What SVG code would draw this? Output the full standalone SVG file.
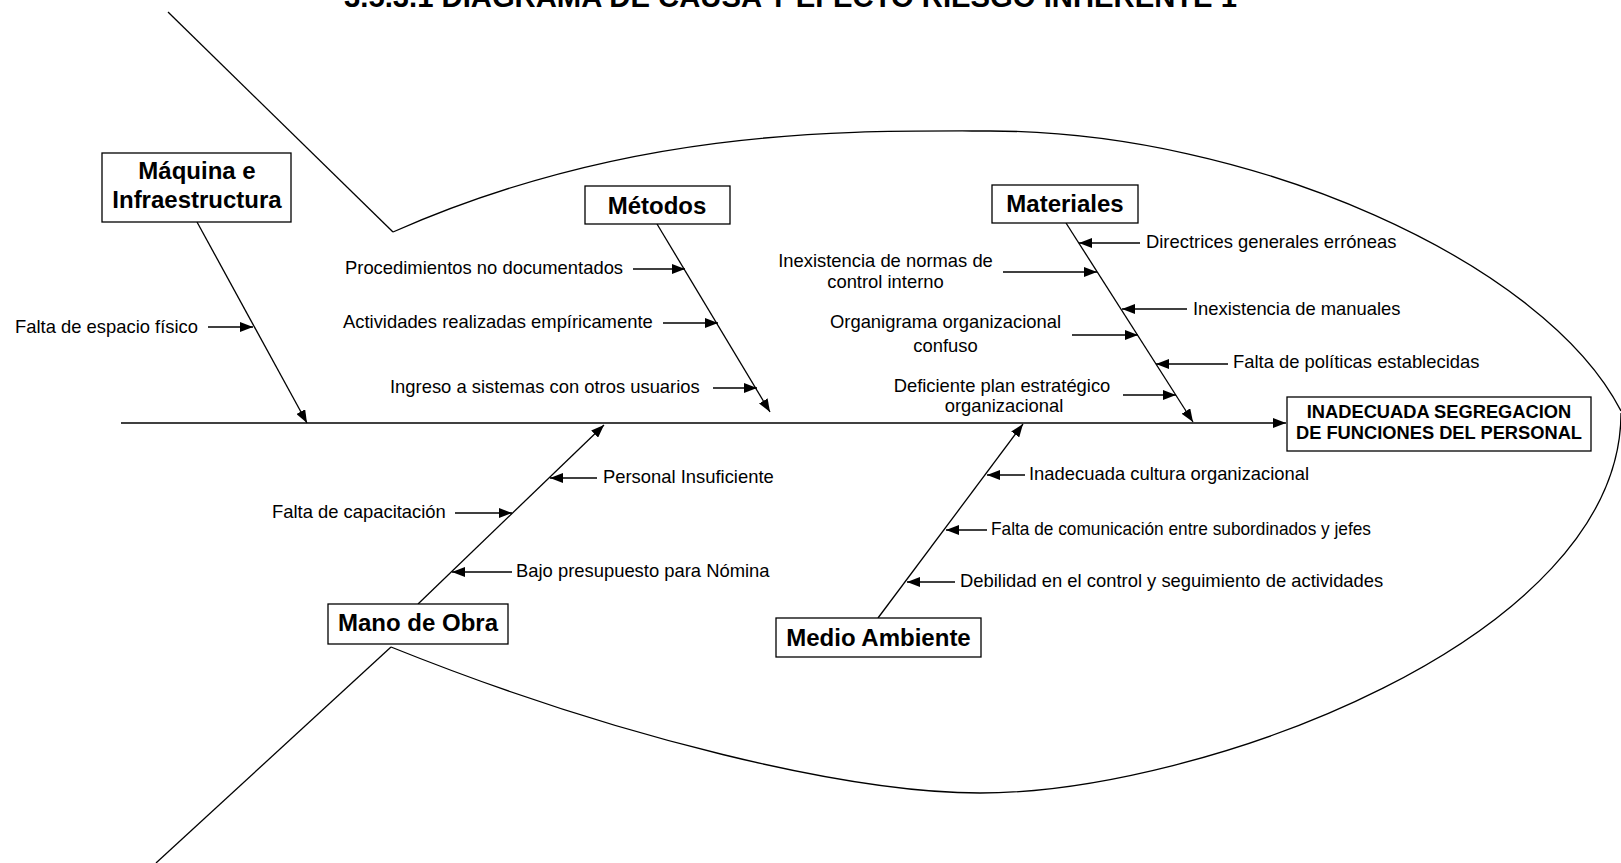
<svg xmlns="http://www.w3.org/2000/svg" width="1621" height="863" viewBox="0 0 1621 863">
<style>
.ln{stroke:#000;stroke-width:1.3;fill:none}
.bx{fill:#fff;stroke:#000;stroke-width:1.3}
.t{font-family:"Liberation Sans",Arial,sans-serif;font-size:18.4px;fill:#000}
.h{font-family:"Liberation Sans",Arial,sans-serif;font-size:24px;font-weight:bold;fill:#000}
.e{font-family:"Liberation Sans",Arial,sans-serif;font-size:18.3px;font-weight:bold;fill:#000}
.ttl{font-family:"Liberation Sans",Arial,sans-serif;font-size:29px;font-weight:bold;fill:#000}
</style>
<defs>
<marker id="ah" viewBox="0 0 13 10" refX="13" refY="5" markerWidth="13" markerHeight="10" markerUnits="userSpaceOnUse" orient="auto"><path d="M0,0 L13,5 L0,10 z" fill="#000"/></marker>
</defs>
<rect width="1621" height="863" fill="#fff"/>
<text class="ttl" x="344" y="7" textLength="893" lengthAdjust="spacingAndGlyphs">3.5.3.1 DIAGRAMA DE CAUSA Y EFECTO RIESGO INHERENTE 1</text>
<g id="fish">
<path class="ln" d="M168,12 L393,232"/>
<path class="ln" d="M393,232 C633,126 850,131 990,131 C1250,131 1545,262 1621,411"/>
<path class="ln" d="M1621,413 C1621,640 1200,793 980,793 C850,793 620,739 391,647"/>
<path class="ln" d="M391,647 L156,863"/>
</g>
<g id="connectors">
<line class="ln" x1="121" y1="423" x2="1286" y2="423" marker-end="url(#ah)"/>
<line class="ln" x1="197" y1="222" x2="307" y2="423" marker-end="url(#ah)"/>
<line class="ln" x1="657" y1="224" x2="770" y2="412" marker-end="url(#ah)"/>
<line class="ln" x1="1066" y1="223" x2="1193" y2="422" marker-end="url(#ah)"/>
<line class="ln" x1="418" y1="604" x2="604" y2="425" marker-end="url(#ah)"/>
<line class="ln" x1="878" y1="618" x2="1023" y2="424" marker-end="url(#ah)"/>
<line class="ln" x1="208" y1="327" x2="253" y2="327" marker-end="url(#ah)"/>
<line class="ln" x1="633" y1="269" x2="685" y2="269" marker-end="url(#ah)"/>
<line class="ln" x1="663" y1="323" x2="718" y2="323" marker-end="url(#ah)"/>
<line class="ln" x1="713" y1="388" x2="757" y2="388" marker-end="url(#ah)"/>
<line class="ln" x1="1140" y1="243" x2="1079" y2="243" marker-end="url(#ah)"/>
<line class="ln" x1="1003" y1="272" x2="1097" y2="272" marker-end="url(#ah)"/>
<line class="ln" x1="1187" y1="309" x2="1122" y2="309" marker-end="url(#ah)"/>
<line class="ln" x1="1072" y1="335" x2="1138" y2="335" marker-end="url(#ah)"/>
<line class="ln" x1="1228" y1="364" x2="1156" y2="364" marker-end="url(#ah)"/>
<line class="ln" x1="1123" y1="395" x2="1176" y2="395" marker-end="url(#ah)"/>
<line class="ln" x1="597" y1="478" x2="550" y2="478" marker-end="url(#ah)"/>
<line class="ln" x1="455" y1="513" x2="512" y2="513" marker-end="url(#ah)"/>
<line class="ln" x1="512" y1="572" x2="452" y2="572" marker-end="url(#ah)"/>
<line class="ln" x1="1025" y1="475" x2="987" y2="475" marker-end="url(#ah)"/>
<line class="ln" x1="987" y1="530" x2="946" y2="530" marker-end="url(#ah)"/>
<line class="ln" x1="955" y1="582" x2="907" y2="582" marker-end="url(#ah)"/>
</g>
<g id="effect">
<rect class="bx" x="1287" y="397" width="304" height="54"/>
<text class="e" x="1439" y="418" text-anchor="middle">INADECUADA SEGREGACION</text>
<text class="e" x="1439" y="439" text-anchor="middle">DE FUNCIONES DEL PERSONAL</text>
</g>
<g id="maquina">
<rect class="bx" x="102" y="153" width="189" height="69"/>
<text class="h" x="197" y="179" text-anchor="middle">Máquina e</text>
<text class="h" x="197" y="208" text-anchor="middle">Infraestructura</text>
<text class="t" x="15" y="333">Falta de espacio físico</text>
</g>
<g id="metodos">
<rect class="bx" x="585" y="186" width="145" height="38"/>
<text class="h" x="657" y="214" text-anchor="middle">Métodos</text>
<text class="t" x="345" y="274">Procedimientos no documentados</text>
<text class="t" x="343" y="328">Actividades realizadas empíricamente</text>
<text class="t" x="390" y="393">Ingreso a sistemas con otros usuarios</text>
</g>
<g id="materiales">
<rect class="bx" x="992" y="185" width="146" height="38"/>
<text class="h" x="1065" y="212" text-anchor="middle">Materiales</text>
<text class="t" x="1146" y="248">Directrices generales erróneas</text>
<text class="t" x="885.5" y="267" text-anchor="middle">Inexistencia de normas de</text>
<text class="t" x="885.5" y="288" text-anchor="middle">control interno</text>
<text class="t" x="1193" y="315">Inexistencia de manuales</text>
<text class="t" x="945.5" y="328" text-anchor="middle">Organigrama organizacional</text>
<text class="t" x="945.5" y="352" text-anchor="middle">confuso</text>
<text class="t" x="1233" y="368">Falta de políticas establecidas</text>
<text class="t" x="1002" y="392" text-anchor="middle">Deficiente plan estratégico</text>
<text class="t" x="1004" y="412" text-anchor="middle">organizacional</text>
</g>
<g id="mano">
<rect class="bx" x="328" y="604" width="180" height="40"/>
<text class="h" x="418" y="631" text-anchor="middle">Mano de Obra</text>
<text class="t" x="603" y="483">Personal Insuficiente</text>
<text class="t" x="272" y="518">Falta de capacitación</text>
<text class="t" x="516" y="577">Bajo presupuesto para Nómina</text>
</g>
<g id="medio">
<rect class="bx" x="776" y="618" width="205" height="39"/>
<text class="h" x="878.5" y="646" text-anchor="middle">Medio Ambiente</text>
<text class="t" x="1029" y="480">Inadecuada cultura organizacional</text>
<text class="t" x="991" y="535" textLength="380" lengthAdjust="spacingAndGlyphs">Falta de comunicación entre subordinados y jefes</text>
<text class="t" x="960" y="587">Debilidad en el control y seguimiento de actividades</text>
</g>
</svg>
